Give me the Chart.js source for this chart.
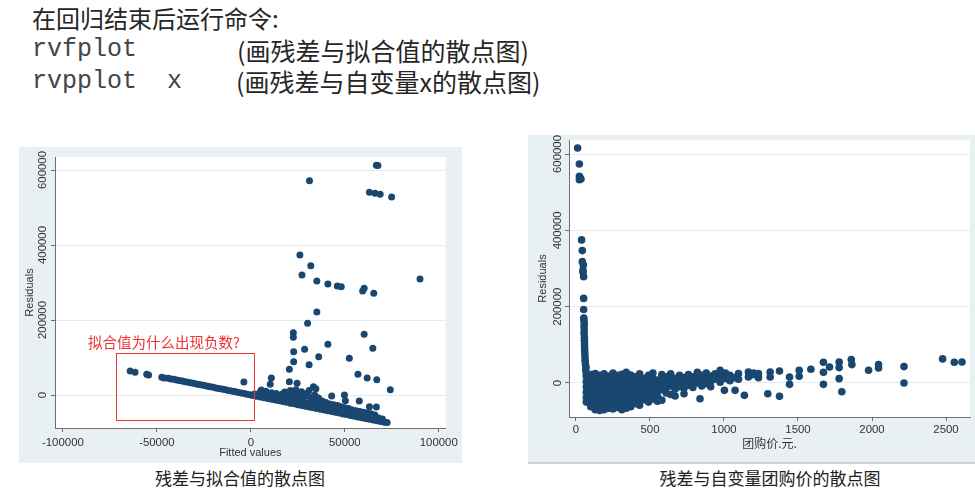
<!DOCTYPE html>
<html>
<head>
<meta charset="utf-8">
<script src="https://cdn.jsdelivr.net/npm/chart.js@4.4.1/dist/chart.umd.min.js"></script>
<style>
  body { margin: 0; width: 975px; height: 493px; background: #fff; position: relative; overflow: hidden; }
  .txt { position: absolute; white-space: pre; color: #262626; line-height: 30px; }
  .cjk { font-family: "Noto Sans CJK SC", sans-serif; }
  .mono { font-family: "Liberation Mono", monospace; font-size: 25px; color: #444; }
  .panel { position: absolute; background: #e8f0f3; }
  .panel canvas { position: absolute; left: 0; top: 0; }
  .cap { position: absolute; font-family: "Noto Sans CJK SC", sans-serif; font-size: 17px; color: #222; line-height: 24px; text-align: center; }
</style>
</head>
<body>

<div class="txt cjk" style="left:32px; top:3px; font-size:24px;">在回归结束后运行命令:</div>
<div class="txt mono" style="left:32px; top:35px;">rvfplot</div>
<div class="txt cjk" style="left:237px; top:35px; font-size:25px;">(画残差与拟合值的散点图)</div>
<div class="txt mono" style="left:32px; top:67px;">rvpplot  x</div>
<div class="txt cjk" style="left:236px; top:66px; font-size:25px;">(画残差与自变量x的散点图)</div>

<div class="panel" style="left:19px; top:147px; width:443px; height:316px;">
  <canvas id="rvf" width="443" height="316"></canvas>
</div>
<div style="position:absolute; left:116px; top:353px; width:137px; height:66px; border:1px solid #e53935;"></div>
<div style="position:absolute; left:88px; top:332px; font-family:'Noto Sans CJK SC',sans-serif; font-size:14.5px; line-height:20px; color:#ee3333; white-space:pre;">拟合值为什么出现负数?</div>

<div class="panel" style="left:528px; top:135px; width:447px; height:327px; border-bottom:2px solid #cfd2d3;">
  <canvas id="rvp" width="447" height="327"></canvas>
</div>

<div class="cap" style="left:140px; top:466px; width:200px;">残差与拟合值的散点图</div>
<div class="cap" style="left:640px; top:466px; width:260px;">残差与自变量团购价的散点图</div>

<script>
// rvfplot: 拟合值 vs 残差
const rvfXTicks = [-100000, -50000, 0, 50000, 100000];
const rvfYTicks = [0, 200000, 400000, 600000];

const rvfOutliers = [
  [66800, 613000], [67600, 612000], [31200, 571500], [63100, 540400], [66100, 537800],
  [68800, 535100], [74900, 528000], [26100, 373300], [31900, 344900], [27200, 320000],
  [35100, 304000], [41000, 296000], [46000, 290700], [48100, 289000], [60300, 284400],
  [59500, 277300], [65400, 271100], [90000, 309300], [35100, 221300], [30200, 191100],
  [22600, 166200], [22600, 153800], [60300, 161800], [41000, 135100], [22800, 115600],
  [28600, 121800], [64900, 124400], [36100, 102200], [52400, 97800], [22800, 88900],
  [31000, 80900], [20500, 68400], [57000, 55100], [61900, 45300], [67000, 40900],
  [74200, 14200], [10900, 45300], [20500, 35600], [24600, 31100], [33300, 22200],
  [34600, 16900], [-3700, 34700], [43000, -2700], [49800, 0], [50300, -15100],
  [57700, -16000], [63100, -31100], [66800, -32000], [10300, 28400], [5600, 13300],
  [-64200, 64000], [-61600, 60400], [-55400, 55100], [-54400, 53300], [-47400, 47100],
  [-46100, 45300], [38000, -26000], [40000, -30000], [45000, -33000], [47000, -30000],
  [52000, -36000]
];

const rvfBand = [
  [-44000, 44500], [-42500, 43000], [-41000, 41800], [-39500, 40000], [-38000, 38600],
  [-36500, 37200], [-35000, 35500], [-33500, 34300], [-32000, 32600], [-30500, 31200],
  [-29000, 29600], [-27500, 28300], [-26000, 26500], [-24500, 25200], [-23000, 23600],
  [-21500, 22000], [-20000, 20600], [-18500, 19000], [-17000, 17500], [-15500, 16100],
  [-14000, 14400], [-12500, 13000], [-11000, 11500], [-9500, 9900], [-8000, 8500],
  [-6500, 6900], [-5000, 5400], [-3500, 3900], [-2000, 2300], [-500, 800]
];

const rvfLower = [
  [1000, -1200], [3000, -3200], [5000, -5300], [7000, -7200], [9000, -9400],
  [11000, -11300], [13000, -13500], [15000, -15400], [17000, -17600], [19000, -19500],
  [21000, -21700], [23000, -23600], [25000, -25800], [27000, -27700], [29000, -29900],
  [31000, -31800], [33000, -34000], [35000, -35900], [37000, -38100], [39000, -40000],
  [41000, -42200], [43000, -44100], [45000, -46300], [47000, -48200], [49000, -50400],
  [51000, -52300], [53000, -54500], [55000, -56400], [57000, -58600], [59000, -60500],
  [61000, -62700], [63000, -64600], [65000, -66800], [67000, -68700], [69000, -70900],
  [71000, -72800], [72500, -73500],
  [2000, 3000], [4000, 1000], [6000, -500], [8000, -2000], [10000, -4000],
  [12000, -6000], [14000, -8000], [16000, -9500], [18000, -11000], [20000, -12500],
  [22000, -14000], [24000, -16000], [26000, -18000], [28000, -20000], [30000, -22000],
  [32000, -24000], [34000, -26000], [36000, -28500], [38000, -30000], [40000, -32000],
  [42000, -34000], [44000, -36000], [46000, -38000], [48000, -40000], [50000, -42000],
  [52000, -44500], [54000, -46500], [56000, -48500], [58000, -50000], [60000, -52000],
  [62000, -54500], [64000, -56500], [66000, -58500], [68000, -61000], [70000, -64000]
];

const rvfCluster = [
  [5000, 8000], [7000, 5000], [8000, 10000], [9500, 3000], [11000, 6000],
  [12000, 0], [13500, 4000], [15000, -2000], [16500, 2000], [18000, 8000],
  [19000, -4000], [20000, 4000], [21000, 12000], [22000, -2000], [23000, 6000],
  [24000, 14000], [25000, -6000], [26000, 2000], [27000, 9000], [28000, -10000],
  [29000, -3000], [30000, 4000], [31000, 12000], [32000, -12000], [33000, -6000],
  [34000, 0], [35000, -14000], [36000, -8000], [38000, -16000], [40000, -20000],
  [42000, -24000], [44000, -26000], [46000, -28000], [48000, -32000], [50000, -34000],
  [52000, -38000], [54000, -40000], [56000, -42000], [58000, -44000], [60000, -46000],
  [62000, -48000], [64000, -50000], [66000, -53000]
];

// rvpplot: 团购价 vs 残差
const rvpXTicks = [0, 500, 1000, 1500, 2000, 2500];
const rvpYTicks = [0, 200000, 400000, 600000];

const rvpSpike = [
  [11, 615800], [23, 573700], [23, 541300], [34, 534300], [23, 532500], [28, 538000],
  [38, 374900], [43, 346900], [43, 318000], [50, 309200], [47, 296000], [52, 278500],
  [48, 290000], [52, 221600], [52, 192700], [54, 164700], [55, 147100], [55, 129600],
  [57, 112100], [58, 94600], [60, 77100], [62, 59600], [68, 42000], [53, 170000],
  [56, 155000], [56, 138000], [57, 120000], [58, 103000], [59, 86000], [61, 68000],
  [64, 50000], [66, 34000], [70, 25000]
];

const rvpBlob = [
  [70, 18000], [70, 4000], [70, -10000], [70, -24000], [70, -38000], [70, -50000],
  [100, 22000], [100, 8000], [100, -6000], [100, -20000], [100, -34000], [100, -48000], [100, -62000],
  [130, 25000], [130, 11000], [130, -3000], [130, -17000], [130, -31000], [130, -45000], [130, -59000], [130, -70000],
  [160, 20000], [160, 6000], [160, -8000], [160, -22000], [160, -36000], [160, -50000], [160, -64000], [160, -72000],
  [190, 24000], [190, 10000], [190, -4000], [190, -18000], [190, -32000], [190, -46000], [190, -60000], [190, -70000],
  [220, 18000], [220, 4000], [220, -10000], [220, -24000], [220, -38000], [220, -52000], [220, -66000],
  [250, 26000], [250, 12000], [250, -2000], [250, -16000], [250, -30000], [250, -44000], [250, -58000], [250, -68000],
  [280, 20000], [280, 6000], [280, -8000], [280, -22000], [280, -36000], [280, -50000], [280, -64000],
  [310, 23000], [310, 9000], [310, -5000], [310, -19000], [310, -33000], [310, -47000], [310, -61000], [310, -70000],
  [340, 28000], [340, 14000], [340, 0], [340, -14000], [340, -28000], [340, -42000], [340, -56000], [340, -66000],
  [370, 21000], [370, 7000], [370, -7000], [370, -21000], [370, -35000], [370, -49000], [370, -62000],
  [400, 16000], [400, 2000], [400, -12000], [400, -26000], [400, -40000], [400, -54000],
  [430, 24000], [430, 10000], [430, -4000], [430, -18000], [430, -32000], [430, -46000], [430, -58000],
  [460, 12000], [460, -2000], [460, -16000], [460, -30000], [460, -44000],
  [490, 20000], [490, 6000], [490, -8000], [490, -22000], [490, -36000], [490, -50000]
];

const rvpTrail = [
  [520, 26000], [520, 12000], [520, -2000], [520, -16000], [520, -30000], [520, -42000],
  [550, 8000], [550, -6000], [550, -20000], [550, -34000], [550, -48000],
  [580, 22000], [580, 10000], [580, -4000], [580, -18000], [580, -45000],
  [610, 16000], [610, 2000], [610, -12000], [610, -26000],
  [640, 24000], [640, 6000], [640, -8000], [640, -30000],
  [670, 12000], [670, -2000], [670, -16000], [670, -34000],
  [700, 20000], [700, 4000], [700, -10000],
  [730, 14000], [730, 0], [730, -14000], [730, -28000],
  [760, 22000], [760, 8000], [760, -6000],
  [790, 16000], [790, 2000], [790, -12000], [838, -41200],
  [820, 28000], [820, 14000], [820, 0],
  [850, 20000], [850, 6000], [850, -8000],
  [880, 26000], [880, 12000], [880, -2000],
  [910, 18000], [910, 4000], [910, -10000],
  [940, 24000], [940, 10000],
  [974, 33300], [974, 16000], [974, 2000], [1003, -19300],
  [1010, 26000], [1010, 12000], [1040, 20000], [1040, 6000],
  [1075, -19300], [1075, 14000], [1098, 24500], [1098, 10000], [1138, -32400],
  [1165, 28900], [1165, 16000], [1200, 22000], [1200, 26000], [1233, 24500], [1233, 14000],
  [1296, -28000], [1312, 28900], [1312, 15800], [1375, 31500], [1375, -35000],
  [1443, -3500], [1443, 15800], [1508, 33300], [1508, 17500], [1587, 35900],
  [1672, 54300], [1672, 28000], [1672, -3500], [1713, 42000], [1778, 55200],
  [1778, 40300], [1778, 11400], [1796, -22800], [1860, 61300], [1864, 48200],
  [1977, 33300], [2044, 48200], [2044, 39400], [2216, 42900], [2216, 0],
  [2477, 63100], [2556, 54300], [2608, 55200]
];

const dotColor = '#1a476f';
const axisColor = '#707070';
const gridColor = '#e3ecef';
const labelFont = '"Liberation Sans", Arial, sans-serif';

// Stata 风格: 白色绘图区, 竖排的 y 轴刻度标签, 轴标题
const stataDecor = {
  id: 'stataDecor',
  beforeDraw(chart) {
    const { ctx, chartArea: a } = chart;
    ctx.save();
    ctx.fillStyle = '#ffffff';
    ctx.fillRect(a.left, a.top, a.right - a.left, a.bottom - a.top);
    ctx.restore();
  },
  afterDraw(chart, args, opts) {
    const { ctx, chartArea: a } = chart;
    const ys = chart.scales.y;
    ctx.save();
    ctx.fillStyle = '#333';
    ctx.textAlign = 'center';
    ctx.textBaseline = 'middle';
    ctx.font = '11.4px ' + labelFont;
    ys.ticks.forEach(t => {
      ctx.save();
      ctx.translate(a.left - opts.yLabelGap, ys.getPixelForValue(t.value));
      ctx.rotate(-Math.PI / 2);
      ctx.fillText(String(t.value), 0, 0);
      ctx.restore();
    });
    ctx.font = '11px ' + labelFont;
    ctx.save();
    ctx.translate(opts.yTitleX, (a.top + a.bottom) / 2);
    ctx.rotate(-Math.PI / 2);
    ctx.fillText(opts.yTitle, 0, 0);
    ctx.restore();
    ctx.font = opts.xTitleFont;
    ctx.fillText(opts.xTitle, (a.left + a.right) / 2, opts.xTitleY);
    ctx.restore();
  }
};

function toXY(list) {
  return list.map(p => ({ x: p[0], y: p[1] }));
}

function makeChart(id, points, xr, yr, xTicks, yTicks, pad, dims, decor) {
  return new Chart(document.getElementById(id), {
    type: 'scatter',
    data: {
      datasets: [{
        data: toXY(points),
        pointRadius: dims.r,
        pointBackgroundColor: dotColor,
        pointBorderWidth: 0,
        pointHoverRadius: dims.r
      }]
    },
    options: {
      responsive: false,
      animation: false,
      layout: { padding: pad },
      plugins: { legend: { display: false }, tooltip: { enabled: false }, stataDecor: decor },
      scales: {
        x: {
          type: 'linear', min: xr[0], max: xr[1],
          afterBuildTicks: s => { s.ticks = xTicks.map(v => ({ value: v })); },
          afterFit: s => { s.height = dims.xh; },
          grid: { drawOnChartArea: false, drawTicks: true, tickLength: 4, tickColor: axisColor },
          border: { color: axisColor, width: 1 },
          ticks: { autoSkip: false, maxRotation: 0, padding: dims.xpad, color: '#333',
                   font: { family: labelFont, size: 11.4 }, callback: v => String(v) }
        },
        y: {
          type: 'linear', min: yr[0], max: yr[1],
          afterBuildTicks: s => { s.ticks = yTicks.map(v => ({ value: v })); },
          afterFit: s => { s.width = dims.yw; },
          grid: { color: gridColor, lineWidth: 1, drawTicks: true, tickLength: 4, tickColor: axisColor },
          border: { color: axisColor, width: 1 },
          ticks: { display: false }
        }
      }
    },
    plugins: [stataDecor]
  });
}

makeChart('rvf', rvfOutliers.concat(rvfBand, rvfLower, rvfCluster),
  [-104200, 103700], [-88000, 634700], rvfXTicks, rvfYTicks,
  { top: 10, right: 12, left: 0, bottom: 0 }, { xh: 35, yw: 36, xpad: 4, r: 3.5 },
  { yLabelGap: 12, yTitle: 'Residuals', yTitleX: 11, xTitle: 'Fitted values', xTitleY: 306,
    xTitleFont: '11px ' + labelFont });

makeChart('rvp', rvpSpike.concat(rvpBlob, rvpTrail),
  [-47, 2662], [-89100, 636700], rvpXTicks, rvpYTicks,
  { top: 5, right: 5, left: 0, bottom: 0 }, { xh: 45, yw: 41, xpad: 2, r: 3.8 },
  { yLabelGap: 11, yTitle: 'Residuals', yTitleX: 15, xTitle: '团购价.元.', xTitleY: 308,
    xTitleFont: '12px "Noto Sans CJK SC", sans-serif' });
</script>
</body>
</html>
